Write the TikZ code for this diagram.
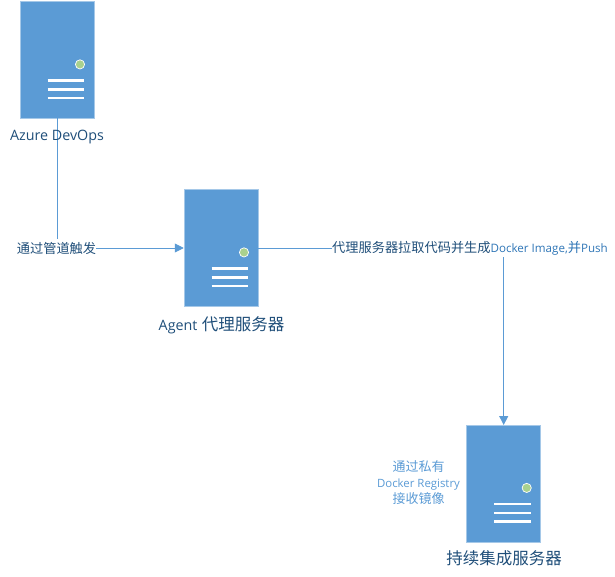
\documentclass[tikz,border=0pt]{standalone}
\usepackage{fontspec}
\setmainfont{Open Sans}
\newfontfamily\cjk{Noto Sans CJK SC}
\usetikzlibrary{arrows.meta}
\definecolor{srv}{HTML}{5B9BD5}
\definecolor{edge}{HTML}{A5C8E8}
\definecolor{led}{HTML}{A9D18E}
\definecolor{txt}{HTML}{1F4E79}
\definecolor{midtxt}{HTML}{2E75B6}
\definecolor{lnk}{HTML}{5B9BD5}
\tikzset{x=1pt,y=-1pt,
 srvbox/.style={fill=srv,draw=edge,line width=0.5pt,minimum width=74pt,minimum height=116.5pt,inner sep=0},
 lab/.style={text=txt,inner sep=0,font=\fontsize{13.2}{15}\selectfont},
 biglab/.style={text=txt,inner sep=0,font=\fontsize{16.5}{18}\selectfont},
 wire/.style={draw=lnk,line width=0.9pt},
 tip/.style={-{Triangle[length=9pt,width=9pt]}}}
\newcommand{\srvicon}[2]{%
 \fill[led,draw=white,line width=0.7pt] (#1+23,#2+4.4) circle (4.6);
 \foreach \dy in {20.3,29.3,38} \draw[white,line width=2.6pt] (#1-9.3,#2+\dy) -- (#1+27.3,#2+\dy);}
\begin{document}
\begin{tikzpicture}
\useasboundingbox (0,0) rectangle (615,577);
\node[srvbox] (a) at (57,60) {};
\node[srvbox] (b) at (221,248) {};
\node[srvbox] (c) at (503.7,483.5) {};
\srvicon{57}{60}
\srvicon{221}{248}
\srvicon{503.7}{483.5}
\draw[wire,tip] (a.south) |- (b.west);
\node[lab,fill=white,inner xsep=0pt,inner ysep=3pt] (t1) at (56.5,248) {\cjk 通过管道触发};
\node[lab,anchor=west] (t2) at (332,248) {{\cjk 代理服务器拉取代码并生成}\fontsize{11.6}{12}\selectfont\color{midtxt} Docker Image,{\fontsize{13.2}{15}\selectfont\cjk 并}Push};
\draw[wire] (b.east) -- (b.east -| t2.west);
\draw[wire,tip] ([yshift=-2pt]t2.south -| c.north) -- (c.north);
\node[biglab,font=\fontsize{14.3}{18}\selectfont] (alab) at (57,137) {Azure DevOps};
\node[biglab] (blab) at (221.5,325) {{\fontsize{14.3}{18}\selectfont Agent} {\cjk 代理服务器}};
\node[biglab] (clab) at (504,558) {\cjk 持续集成服务器};
\node[text=lnk,inner sep=0,align=center,font=\fontsize{11.4}{16}\selectfont] (t3) at (418.5,483) {{\fontsize{13}{16}\selectfont\cjk 通过私有}\\Docker Registry\\{\fontsize{13}{16}\selectfont\cjk 接收镜像}};
\end{tikzpicture}
\end{document}
